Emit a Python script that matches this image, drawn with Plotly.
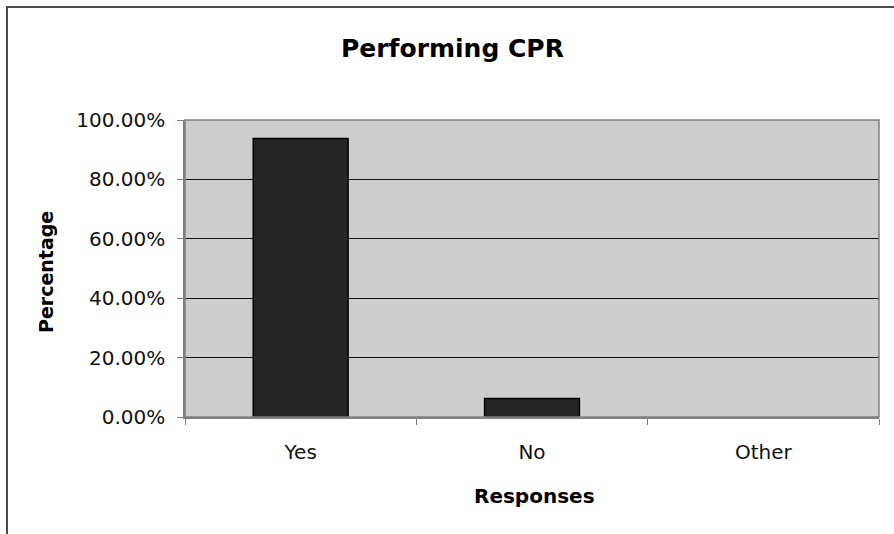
import plotly.graph_objects as go

# Survey responses on performing CPR
responses = ["Yes", "No", "Other"]
percentages = [0.9375, 0.0625, 0.0]
y_ticks = [0, 0.2, 0.4, 0.6, 0.8, 1.0]

FONT = "DejaVu Sans, Liberation Sans, Arial, sans-serif"

# no outline on empty bars so a zero value leaves no stray line
outline_widths = [1.5 if v > 0 else 0 for v in percentages]

fig = go.Figure(
    go.Bar(
        x=responses,
        y=percentages,
        width=0.41,
        marker=dict(color="#262626", line=dict(color="#000000", width=outline_widths)),
        hoverinfo="x+y",
    )
)

fig.update_layout(
    width=894,
    height=534,
    margin=dict(l=185, r=15, t=120, b=117),
    paper_bgcolor="#ffffff",
    plot_bgcolor="#cdcdcd",
    showlegend=False,
    font=dict(family=FONT, size=20, color="#000000"),
    xaxis=dict(
        type="category",
        tickson="boundaries",
        ticks="outside",
        ticklen=6,
        tickcolor="#808080",
        tickwidth=1,
        showline=True,
        linecolor="#808080",
        linewidth=1.5,
        showgrid=False,
        ticklabelstandoff=16,
        tickfont=dict(family=FONT, size=20, color="#111111"),
    ),
    yaxis=dict(
        range=[0, 1],
        tickvals=y_ticks,
        tickformat=".2%",
        ticks="outside",
        ticklen=6,
        tickcolor="#808080",
        showline=True,
        linecolor="#808080",
        linewidth=1.5,
        showgrid=True,
        gridcolor="#111111",
        gridwidth=1,
        zeroline=False,
        ticklabelstandoff=8,
        tickfont=dict(family=FONT, size=20, color="#111111"),
    ),
    annotations=[
        dict(
            text="<b>Performing CPR</b>",
            xref="paper", yref="paper",
            x=(452 - 185) / 694, y=(417 - 48) / 297,
            xanchor="center", yanchor="middle",
            showarrow=False,
            font=dict(family=FONT, size=25, color="#000000"),
        ),
        dict(
            text="<b>Responses</b>",
            xref="paper", yref="paper",
            x=(534 - 185) / 694, y=(417 - 496) / 297,
            xanchor="center", yanchor="middle",
            showarrow=False,
            font=dict(family=FONT, size=20, color="#000000"),
        ),
        dict(
            text="<b>Percentage</b>",
            xref="paper", yref="paper",
            x=(46 - 185) / 694, y=(417 - 272) / 297,
            xanchor="center", yanchor="middle",
            textangle=-90,
            showarrow=False,
            font=dict(family=FONT, size=19, color="#000000"),
        ),
    ],
    shapes=[
        # plot area frame (top and right edges)
        dict(
            type="rect", xref="paper", yref="paper",
            x0=0, x1=1, y0=0, y1=1,
            line=dict(color="#808080", width=1.5),
            fillcolor="rgba(0,0,0,0)",
            layer="above",
        ),
        # outer chart border
        dict(
            type="rect", xref="paper", yref="paper",
            x0=(7 - 185) / 694, x1=(905 - 185) / 694,
            y0=(417 - 545) / 297, y1=(417 - 7) / 297,
            line=dict(color="#4a4a4a", width=2),
            fillcolor="rgba(0,0,0,0)",
        ),
    ],
)

fig.write_html("out.html")
